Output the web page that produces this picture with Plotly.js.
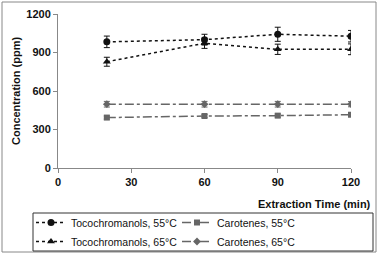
<!DOCTYPE html>
<html><head><meta charset="utf-8">
<script src="https://cdn.plot.ly/plotly-3.0.1.min.js"></script>
<style>html,body{margin:0;padding:0;background:#fff;}#chart{width:381px;height:254px;}</style>
</head><body><div id="chart"></div>
<script>
const time = [20, 60, 90, 120];
const toco55 = [983, 1000, 1042, 1027];
const toco55Err = [45, 42, 55, 45];
const toco65 = [828, 972, 925, 925];
const toco65Err = [35, 40, 40, 42];
const car55 = [393, 405, 408, 415];
const car55Err = [12, 12, 12, 12];
const car65 = [497, 497, 497, 497];
const car65Err = [22, 22, 22, 20];
const names = ['Tocochromanols, 55°C', 'Carotenes, 55°C', 'Tocochromanols, 65°C', 'Carotenes, 65°C'];
const xTicks = [0, 30, 60, 90, 120];
const yTicks = [0, 300, 600, 900, 1200];

function tr(y, err, name, color, dash, symbol, size) {
  return {
    x: time, y: y, name: name, type: 'scatter', mode: 'lines+markers',
    line: {color: color, width: 1.5, dash: dash},
    marker: {symbol: symbol, size: size, color: color},
    error_y: {type: 'data', array: err, visible: true, color: color, thickness: 1, width: 3}
  };
}
const data = [
  tr(toco55, toco55Err, names[0], '#111', 'dot', 'circle', 7),
  tr(car55, car55Err, names[1], '#666', 'dashdot', 'square', 6),
  tr(toco65, toco65Err, names[2], '#111', 'dot', 'triangle-up', 7),
  tr(car65, car65Err, names[3], '#666', 'dashdot', 'diamond', 6)
];
const W = 293, H = 154;
const tf = {family: 'Liberation Sans, Arial, sans-serif', size: 11, color: '#111', weight: 'bold'};
const layout = {
  width: 381, height: 254,
  margin: {l: 58, r: 30, t: 14, b: 86, pad: 0, autoexpand: false},
  paper_bgcolor: '#fff', plot_bgcolor: '#fff',
  font: {family: 'Liberation Sans, Arial, sans-serif', size: 11, color: '#111'},
  showlegend: true,
  xaxis: {range: [0, 120], tickvals: xTicks, ticktext: xTicks.map(String), showgrid: false, zeroline: false,
    showline: true, linecolor: '#888', linewidth: 1, ticks: 'outside', ticklen: 4, tickcolor: '#888',
    tickfont: tf, automargin: false},
  yaxis: {range: [0, 1200], tickvals: yTicks, ticktext: yTicks.map(String), showgrid: false, zeroline: false,
    showline: true, linecolor: '#888', linewidth: 1, ticks: 'outside', ticklen: 4, tickcolor: '#888',
    tickfont: tf, automargin: false},
  legend: {orientation: 'h', x: (31 - 58) / W, xanchor: 'left', y: (168 - 208) / H, yanchor: 'top',
    entrywidth: 101, entrywidthmode: 'pixels', borderwidth: 0, bgcolor: 'rgba(0,0,0,0)',
    font: {family: 'Liberation Sans, Arial, sans-serif', size: 10.5, color: '#111'}, itemwidth: 30,
    traceorder: 'normal'},
  annotations: [
    {text: '<b>Extraction Time (min)</b>', xref: 'paper', yref: 'paper', x: (373 - 58) / W, xanchor: 'right',
      y: (168 - 204) / H, yanchor: 'middle', showarrow: false, font: {size: 11, color: '#111'}},
    {text: '<b>Concentration (ppm)</b>', xref: 'paper', yref: 'paper', x: (16 - 58) / W, xanchor: 'center',
      y: 0.5, yanchor: 'middle', textangle: -90, showarrow: false, font: {size: 11, color: '#111'}}
  ],
  shapes: [
    {type: 'rect', xref: 'paper', yref: 'paper', x0: (2 - 58) / W, x1: (376 - 58) / W, y0: (168 - 252) / H, y1: (168 - 2) / H,
      line: {color: '#888', width: 1}},
    {type: 'rect', xref: 'paper', yref: 'paper', x0: (33 - 58) / W, x1: (373 - 58) / W, y0: (168 - 251) / H, y1: (168 - 213) / H,
      line: {color: '#333', width: 1}}
  ]
};
Plotly.newPlot('chart', data, layout, {displayModeBar: false, staticPlot: true});
</script></body></html>
